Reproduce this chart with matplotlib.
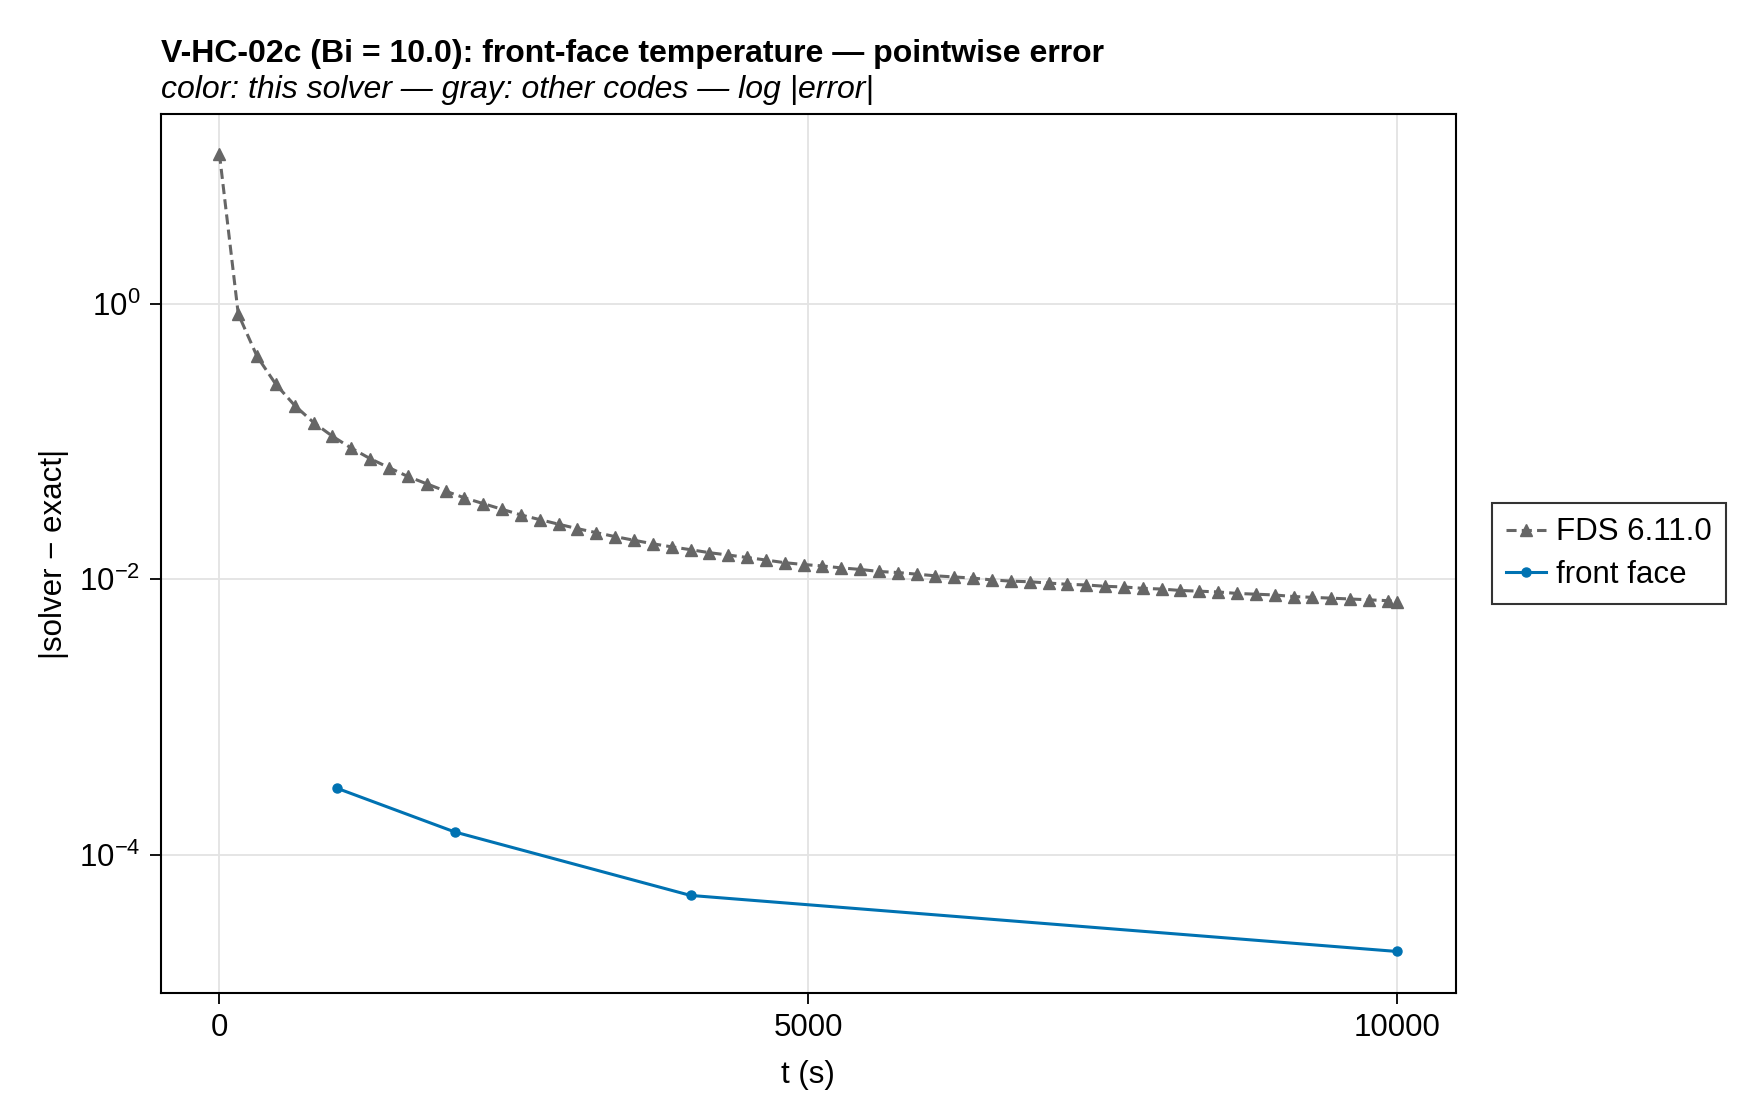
import matplotlib
matplotlib.use("Agg")
import matplotlib.pyplot as plt
from matplotlib.ticker import FixedLocator, LogFormatterSciNotation, NullLocator

plt.rcParams['font.family'] = ['Liberation Sans', 'DejaVu Sans']
plt.rcParams['mathtext.fontset'] = 'custom'
plt.rcParams['mathtext.rm'] = 'Liberation Sans'
plt.rcParams['mathtext.it'] = 'Liberation Sans:italic'
plt.rcParams['mathtext.bf'] = 'Liberation Sans:bold'

# FDS 6.11.0 output times and |error|
fds_t = [0, 160, 320, 480, 640, 800, 960, 1120, 1280, 1440,
         1600, 1760, 1920, 2080, 2240, 2400, 2560, 2720, 2880, 3040,
         3200, 3360, 3520, 3680, 3840, 4000, 4160, 4320, 4480, 4640,
         4800, 4960, 5120, 5280, 5440, 5600, 5760, 5920, 6080, 6240,
         6400, 6560, 6720, 6880, 7040, 7200, 7360, 7520, 7680, 7840,
         8000, 8160, 8320, 8480, 8640, 8800, 8960, 9120, 9280, 9440,
         9600, 9760, 9920, 10000]
fds_err = [12.2, 0.84, 0.413, 0.259, 0.182, 0.137, 0.109, 0.0894, 0.075, 0.0645,
           0.0557, 0.0493, 0.0436, 0.0390, 0.0354, 0.0322, 0.0293, 0.0271, 0.0251, 0.0233,
           0.0218, 0.0204, 0.0192, 0.0181, 0.0172, 0.0164, 0.0156, 0.0150, 0.0144, 0.0138,
           0.0132, 0.0128, 0.0125, 0.0121, 0.0118, 0.0114, 0.0112, 0.0109, 0.0106, 0.0104,
           0.0102, 0.0099, 0.0097, 0.0096, 0.0094, 0.0092, 0.0091, 0.0089, 0.0088, 0.0086,
           0.0085, 0.0083, 0.0082, 0.0081, 0.0079, 0.0078, 0.0077, 0.0075, 0.0074, 0.0073,
           0.0072, 0.0071, 0.0070, 0.0069]

# this solver, front face
ff_t = [1000, 2000, 4000, 10000]
ff_err = [3.05e-4, 1.47e-4, 5.1e-5, 2.0e-5]

xticks = [0, 5000, 10000]
yticks = [1e0, 1e-2, 1e-4]

fig = plt.figure(figsize=(17.6, 11.2), dpi=100)
ax = fig.add_axes([0.0912, 0.1134, 0.7361, 0.7844])

ax.plot(fds_t, fds_err, color='#666666', linewidth=2.2, dashes=(3.3, 1.7),
        marker='^', markersize=9, label='FDS 6.11.0', zorder=3)
ax.plot(ff_t, ff_err, color='#0072b2', linewidth=2.2,
        marker='o', markersize=6.5, label='front face', zorder=4)

ax.set_yscale('log')
ax.set_xlim(-500, 10500)
ax.set_ylim(1.0e-5, 23.5)

ax.xaxis.set_major_locator(FixedLocator(xticks))
ax.yaxis.set_major_locator(FixedLocator(yticks))
ax.yaxis.set_major_formatter(LogFormatterSciNotation())
ax.yaxis.set_minor_locator(NullLocator())

ax.grid(True, color='#e3e3e3', linewidth=1.3, zorder=0)
ax.set_axisbelow(True)
for s in ax.spines.values():
    s.set_linewidth(1.5)
ax.tick_params(axis='both', direction='out', length=7.7, width=1.3,
               labelsize=22.5, pad=7)

ax.set_xlabel('t (s)', fontsize=22.5, labelpad=12)
ax.set_ylabel('|solver \u2212 exact|', fontsize=22.5, labelpad=7)

fig.text(0.0915, 0.945, 'V-HC-02c (Bi = 10.0): front-face temperature \u2014 pointwise error',
         fontsize=23, fontweight='bold', va='baseline', ha='left')
fig.text(0.0915, 0.9128, 'color: this solver \u2014 gray: other codes \u2014 log |error|',
         fontsize=23, style='italic', va='baseline', ha='left')

leg = ax.legend(loc='center left', bbox_to_anchor=(1.0275, 0.5), fontsize=22.5,
                frameon=True, fancybox=False, edgecolor='black',
                handlelength=1.3, handletextpad=0.3, borderpad=0.45,
                labelspacing=0.4, borderaxespad=0)
leg.get_frame().set_linewidth(1.5)

fig.savefig('out.png', dpi=100)
